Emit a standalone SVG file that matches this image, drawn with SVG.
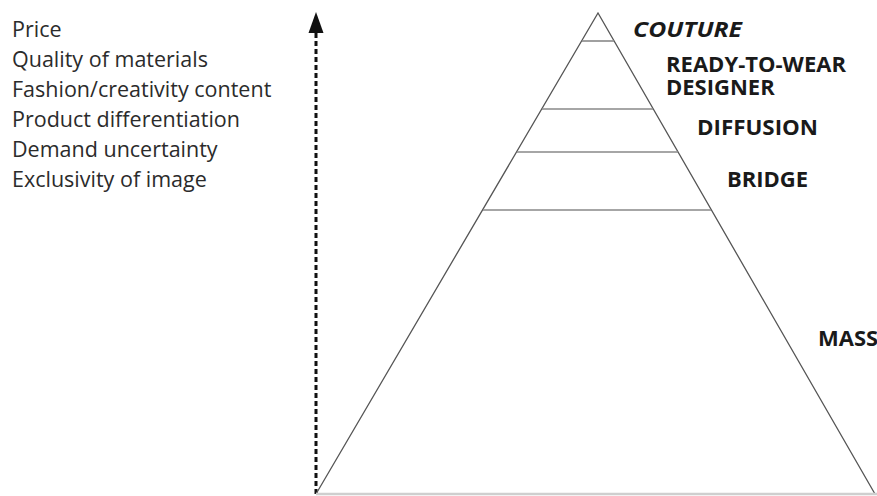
<svg xmlns="http://www.w3.org/2000/svg" width="877" height="496" viewBox="0 0 877 496">
  <style>
    .attr { font-family: "Open Sans", "Noto Sans", sans-serif; font-size: 21.5px; fill: #2b2b2b; }
    .lvl { font-family: "Open Sans", "Noto Sans", sans-serif; font-size: 22px; font-weight: bold; fill: #1a1a1a; }
    .edge { stroke: #555; stroke-width: 1.3; fill: none; }
    .tier { stroke: #888; stroke-width: 1.6; fill: none; }
  </style>
  <rect width="877" height="496" fill="#ffffff"/>

  <g id="attributes">
    <text class="attr" x="12" y="37">Price</text>
    <text class="attr" x="12" y="67">Quality of materials</text>
    <text class="attr" x="12" y="97">Fashion/creativity content</text>
    <text class="attr" x="12" y="127">Product differentiation</text>
    <text class="attr" x="12" y="157">Demand uncertainty</text>
    <text class="attr" x="12" y="187">Exclusivity of image</text>
  </g>

  <g id="connectors">
    <line x1="316" y1="494" x2="316" y2="32" stroke="#111" stroke-width="3" stroke-dasharray="5 3"/>
    <path d="M316,12 L308.5,33 L323.5,33 Z" fill="#111"/>
  </g>

  <g id="pyramid">
    <path class="edge" d="M316,494 L598,13 L875,494"/>
    <line x1="316" y1="494" x2="877" y2="494" stroke="#cfcfcf" stroke-width="2.5"/>
  </g>

  <g id="couture">
    <line class="tier" x1="582" y1="41" x2="614" y2="41"/>
    <text class="lvl" x="633" y="37" font-size="24" font-style="italic" textLength="109" lengthAdjust="spacingAndGlyphs">COUTURE</text>
  </g>
  <g id="ready-to-wear">
    <line class="tier" x1="542" y1="109" x2="653" y2="109"/>
    <text class="lvl" x="666" y="72" textLength="180" lengthAdjust="spacingAndGlyphs">READY-TO-WEAR</text>
    <text class="lvl" x="666" y="95">DESIGNER</text>
  </g>
  <g id="diffusion">
    <line class="tier" x1="517" y1="152" x2="678" y2="152"/>
    <text class="lvl" x="697" y="135" textLength="121" lengthAdjust="spacingAndGlyphs">DIFFUSION</text>
  </g>
  <g id="bridge">
    <line class="tier" x1="483" y1="210" x2="711" y2="210"/>
    <text class="lvl" x="727" y="187">BRIDGE</text>
  </g>
  <g id="mass">
    <text class="lvl" x="818" y="346">MASS</text>
  </g>
</svg>
